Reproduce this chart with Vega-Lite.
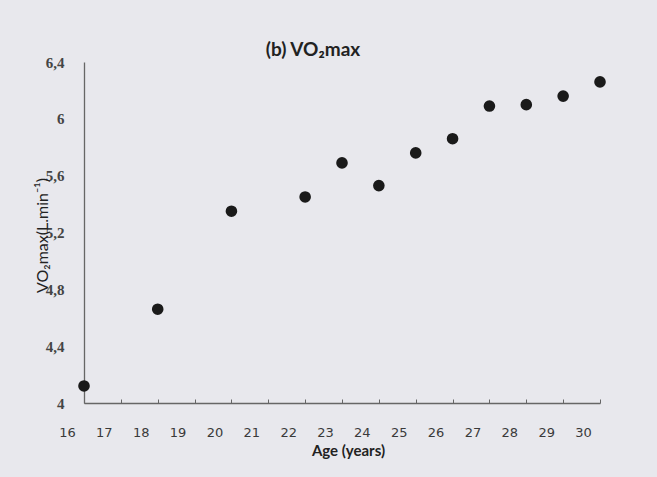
{
  "$schema": "https://vega.github.io/schema/vega-lite/v6.json",
  "autosize": "none",
  "width": 516,
  "height": 341,
  "padding": {"left": 84, "top": 62, "right": 57, "bottom": 74},
  "background": "#e8e8ed",
  "title": {
    "text": "(b) VO₂max",
    "font": "Lato",
    "fontSize": 19,
    "fontWeight": "bold",
    "color": "#222222",
    "anchor": "middle",
    "dx": -29,
    "offset": -5
  },
  "data": {
    "values": [
      {"age": 16, "vo2max": 4.12},
      {"age": 18, "vo2max": 4.66},
      {"age": 20, "vo2max": 5.35},
      {"age": 22, "vo2max": 5.45},
      {"age": 23, "vo2max": 5.69},
      {"age": 24, "vo2max": 5.53},
      {"age": 25, "vo2max": 5.76},
      {"age": 26, "vo2max": 5.86},
      {"age": 27, "vo2max": 6.09},
      {"age": 28, "vo2max": 6.1},
      {"age": 29, "vo2max": 6.16},
      {"age": 30, "vo2max": 6.26}
    ]
  },
  "mark": {"type": "point", "filled": true, "shape": "circle", "size": 135, "color": "#1a1a1a", "opacity": 1},
  "encoding": {
    "x": {
      "field": "age",
      "type": "quantitative",
      "scale": {"domain": [16, 30], "nice": false, "zero": false},
      "axis": {
        "title": "Age (years)",
        "values": [16, 17, 18, 19, 20, 21, 22, 23, 24, 25, 26, 27, 28, 29, 30],
        "grid": false,
        "domainColor": "#666666",
        "domainWidth": 1.3,
        "tickColor": "#666666",
        "tickSize": -4,
        "labelFont": "DejaVu Sans",
        "labelFontSize": 13,
        "labelColor": "#3a3a3a",
        "labelOffset": -17,
        "labelPadding": 27,
        "labelFlush": false,
        "labelOverlap": false,
        "titleFont": "Lato",
        "titleFontSize": 15,
        "titleFontWeight": "bold",
        "titleColor": "#222222",
        "titleX": 264,
        "titleY": 47,
        "titleBaseline": "middle",
        "titleAlign": "center"
      }
    },
    "y": {
      "field": "vo2max",
      "type": "quantitative",
      "scale": {"domain": [4, 6.4], "nice": false, "zero": false},
      "axis": {
        "title": "VO₂max(L.min⁻¹)",
        "values": [4, 4.4, 4.8, 5.2, 5.6, 6, 6.4],
        "labelExpr": "replace(format(datum.value, '.1~f'), '.', ',')",
        "grid": false,
        "ticks": false,
        "domainColor": "#666666",
        "domainWidth": 1.3,
        "labelFont": "Liberation Serif",
        "labelFontSize": 15,
        "labelFontWeight": "bold",
        "labelColor": "#444444",
        "labelPadding": 20,
        "labelFlush": false,
        "labelOverlap": false,
        "titleFont": "Lato",
        "titleFontSize": 16,
        "titleFontWeight": "normal",
        "titleColor": "#222222",
        "titleX": -42,
        "titleY": 173,
        "titleAngle": -90,
        "titleAlign": "center",
        "titleBaseline": "middle"
      }
    }
  },
  "config": {"view": {"stroke": null}}
}
